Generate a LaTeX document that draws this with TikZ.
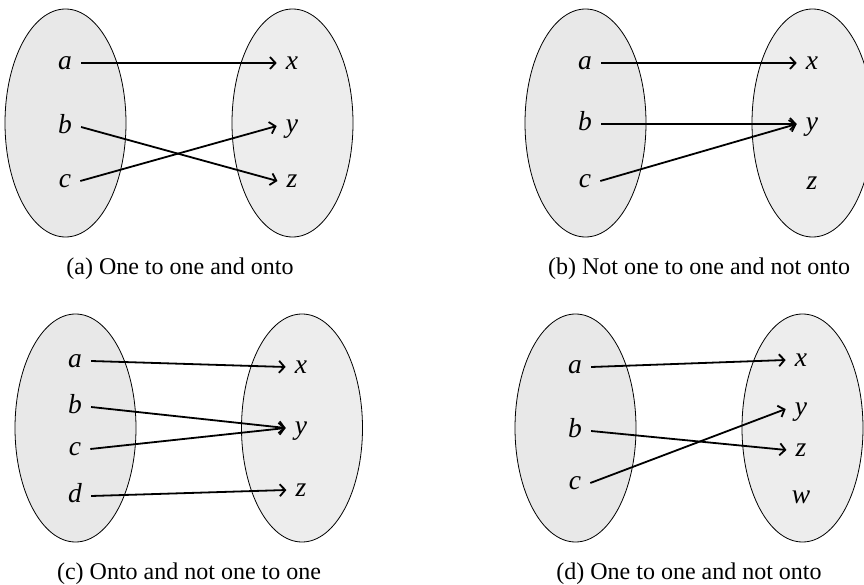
\documentclass[tikz,border=0pt]{standalone}
\usepackage{fontspec}
\setmainfont{Liberation Serif}
\usetikzlibrary{arrows.meta}
\begin{document}
\begin{tikzpicture}[x=1pt,y=-1pt,
  setL/.style={draw=black, line width=0.8pt, fill=black!9},
  setR/.style={draw=black, line width=0.8pt, fill=black!7},
  elem/.style={font=\fontsize{27.5}{30}\selectfont\itshape, inner xsep=9pt, inner ysep=0pt, text height=12.5pt, text depth=0pt, anchor=center},
  map/.style={-{Straight Barb[length=5.5pt,width=12pt]}, line width=1.8pt},
  subcap/.style={font=\fontsize{24}{28}\selectfont, anchor=base, inner sep=0pt}]
\useasboundingbox (0,0) rectangle (864,585);
% panel (a)
\draw[setL] (65.5,123) ellipse [x radius=60.5, y radius=114];
\draw[setR] (292.5,123) ellipse [x radius=60.5, y radius=114];
\node[elem] (a1) at (65,63) {a};
\node[elem] (b1) at (65,127) {b};
\node[elem] (c1) at (65,181) {c};
\node[elem] (x1) at (292,63) {x};
\node[elem] (y1) at (292,126) {y};
\node[elem] (z1) at (292,181) {z};
\draw[map] (a1.east) -- (x1.west);
\draw[map] (b1.east) -- (z1.west);
\draw[map] (c1.east) -- (y1.west);
\node[subcap] (cap1) at (180,274) {(a) One to one and onto};
% panel (b)
\draw[setL] (585.5,123) ellipse [x radius=60.5, y radius=114];
\draw[setR] (812.5,123) ellipse [x radius=60.5, y radius=114];
\node[elem] (a2) at (585,63) {a};
\node[elem] (b2) at (585,124) {b};
\node[elem] (c2) at (585,181) {c};
\node[elem] (x2) at (812,63) {x};
\node[elem] (y2) at (812,124) {y};
\node[elem] (z2) at (812,183) {z};
\draw[map] (a2.east) -- (x2.west);
\draw[map] (b2.east) -- (y2.west);
\draw[map] (c2.east) -- (y2.west);
\node[subcap] (cap2) at (699,274) {(b) Not one to one and not onto};
% panel (c)
\draw[setL] (75.5,428) ellipse [x radius=60.5, y radius=114];
\draw[setR] (302,428) ellipse [x radius=60.5, y radius=114];
\node[elem] (a3) at (75,361) {a};
\node[elem] (b3) at (75,407) {b};
\node[elem] (c3) at (75,449) {c};
\node[elem] (d3) at (75,496) {d};
\node[elem] (x3) at (301,367) {x};
\node[elem] (y3) at (301,428) {y};
\node[elem] (z3) at (301,490) {z};
\draw[map] (a3.east) -- (x3.west);
\draw[map] (b3.east) -- (y3.west);
\draw[map] (c3.east) -- (y3.west);
\draw[map] (d3.east) -- (z3.west);
\node[subcap] (cap3) at (189,579) {(c) Onto and not one to one};
% panel (d)
\draw[setL] (575.5,428) ellipse [x radius=60.5, y radius=114];
\draw[setR] (802.5,428) ellipse [x radius=60.5, y radius=114];
\node[elem] (a4) at (575,367) {a};
\node[elem] (b4) at (575,431) {b};
\node[elem] (c4) at (575,483) {c};
\node[elem] (x4) at (801,360) {x};
\node[elem] (y4) at (801,409) {y};
\node[elem] (z4) at (801,450) {z};
\node[elem] (w4) at (801,497) {w};
\draw[map] (a4.east) -- (x4.west);
\draw[map] (b4.east) -- (z4.west);
\draw[map] (c4.east) -- (y4.west);
\node[subcap] (cap4) at (689,579) {(d) One to one and not onto};
\end{tikzpicture}
\end{document}
